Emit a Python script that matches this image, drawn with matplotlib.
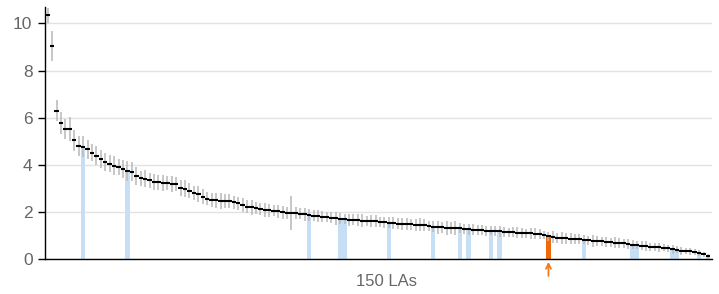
import numpy as np
import matplotlib.pyplot as plt

# Rate per LA, sorted high to low, with half-width of the confidence interval.
values = [
    10.35, 9.05, 6.30, 5.78, 5.52, 5.52, 5.04, 4.79, 4.77, 4.65,
    4.52, 4.38, 4.25, 4.13, 4.05, 3.97, 3.90, 3.82, 3.72, 3.70,
    3.52, 3.42, 3.40, 3.35, 3.27, 3.25, 3.23, 3.22, 3.20, 3.18,
    3.02, 2.98, 2.90, 2.82, 2.76, 2.65, 2.56, 2.52, 2.49, 2.48,
    2.47, 2.46, 2.40, 2.37, 2.30, 2.22, 2.19, 2.17, 2.12, 2.08,
    2.06, 2.05, 2.03, 1.99, 1.96, 1.94, 1.94, 1.92, 1.90, 1.87,
    1.84, 1.82, 1.80, 1.78, 1.76, 1.73, 1.71, 1.69, 1.67, 1.66,
    1.64, 1.63, 1.62, 1.61, 1.60, 1.58, 1.56, 1.54, 1.52, 1.50,
    1.49, 1.48, 1.47, 1.46, 1.45, 1.44, 1.40, 1.37, 1.35, 1.34,
    1.33, 1.33, 1.32, 1.31, 1.28, 1.26, 1.25, 1.24, 1.22, 1.20,
    1.19, 1.18, 1.17, 1.15, 1.14, 1.13, 1.12, 1.11, 1.10, 1.09,
    1.08, 1.06, 1.03, 0.96, 0.92, 0.90, 0.89, 0.88, 0.87, 0.85,
    0.84, 0.82, 0.79, 0.77, 0.76, 0.75, 0.73, 0.71, 0.70, 0.68,
    0.66, 0.64, 0.61, 0.58, 0.56, 0.54, 0.52, 0.50, 0.49, 0.48,
    0.46, 0.41, 0.40, 0.35, 0.34, 0.32, 0.30, 0.25, 0.20, 0.13,
]
errors = [
    0.32, 0.64, 0.45, 0.48, 0.42, 0.52, 0.45, 0.42, 0.45, 0.40,
    0.38, 0.40, 0.37, 0.38, 0.36, 0.40, 0.34, 0.38, 0.42, 0.40,
    0.37, 0.33, 0.36, 0.32, 0.35, 0.30, 0.33, 0.31, 0.34, 0.30,
    0.33, 0.36, 0.32, 0.30, 0.35, 0.32, 0.28, 0.30, 0.33, 0.34,
    0.31, 0.30, 0.29, 0.27, 0.30, 0.28, 0.32, 0.27, 0.25, 0.28,
    0.26, 0.24, 0.27, 0.28, 0.25, 0.72, 0.26, 0.24, 0.27, 0.25,
    0.23, 0.26, 0.24, 0.22, 0.25, 0.27, 0.24, 0.22, 0.26, 0.23,
    0.25, 0.27, 0.22, 0.24, 0.25, 0.21, 0.23, 0.24, 0.25, 0.22,
    0.24, 0.26, 0.23, 0.25, 0.27, 0.24, 0.22, 0.23, 0.28, 0.24,
    0.29, 0.26, 0.30, 0.22, 0.21, 0.23, 0.24, 0.20, 0.22, 0.21,
    0.19, 0.20, 0.24, 0.22, 0.19, 0.21, 0.23, 0.20, 0.19, 0.22,
    0.24, 0.20, 0.18, 0.20, 0.26, 0.22, 0.24, 0.23, 0.25, 0.21,
    0.22, 0.20, 0.19, 0.24, 0.21, 0.20, 0.22, 0.18, 0.23, 0.21,
    0.19, 0.20, 0.18, 0.17, 0.19, 0.22, 0.18, 0.17, 0.20, 0.16,
    0.15, 0.18, 0.14, 0.17, 0.13, 0.15, 0.14, 0.12, 0.11, 0.08,
]
highlighted = [8, 18, 59, 66, 67, 77, 87, 93, 95, 100, 102, 121, 132, 133, 141, 142, 147, 149]
selected = 113
y_ticks = [0, 2, 4, 6, 8, 10]
x_label = "150 LAs"

values = np.array(values)
errors = np.array(errors)
x = np.arange(len(values))
fonts = ['Liberation Sans', 'DejaVu Sans']

fig = plt.figure(figsize=(7.19, 2.94), dpi=100)
ax = fig.add_axes([45 / 719, 35 / 294, 667 / 719, 252 / 294])

# Highlighted LAs as bars from zero.
ax.bar(highlighted, values[highlighted], width=1.0, color="#c6dff5", zorder=1)
ax.bar([selected], [values[selected]], width=1.0, color="#f06a0a", zorder=1)

# Confidence intervals and point estimates.
ax.vlines(x, values - errors, values + errors, color="#b8b8b8", lw=1.1, zorder=2)
ax.hlines(values, x - 0.5, x + 0.5, color="black", lw=1.5, zorder=3)

ax.set_xlim(-0.6, 149.9)
ax.set_ylim(0, 10.7)
ax.set_yticks(y_ticks)
ax.set_yticklabels([str(t) for t in y_ticks], family=fonts)
ax.set_xticks([])
ax.tick_params(axis="y", length=5, width=1, colors="black", labelcolor="#666666",
               labelsize=12.5, pad=4)
ax.yaxis.grid(True, color="#e2e2e2", lw=1)
ax.set_axisbelow(True)
for side in ["top", "right"]:
    ax.spines[side].set_visible(False)
ax.spines["left"].set_linewidth(1)
ax.spines["bottom"].set_linewidth(1)

# Arrow pointing at the selected LA.
ax.annotate("", xy=(selected, -0.12), xytext=(selected, -0.72),
            arrowprops=dict(arrowstyle="->", color="#f07a20", lw=1.3,
                            mutation_scale=9, shrinkA=0, shrinkB=0),
            annotation_clip=False)

fig.text(386 / 719, 1 - 281 / 294, x_label, ha="center", va="center",
         color="#666666", fontsize=12, family=fonts)

fig.savefig("out.png", dpi=100)
